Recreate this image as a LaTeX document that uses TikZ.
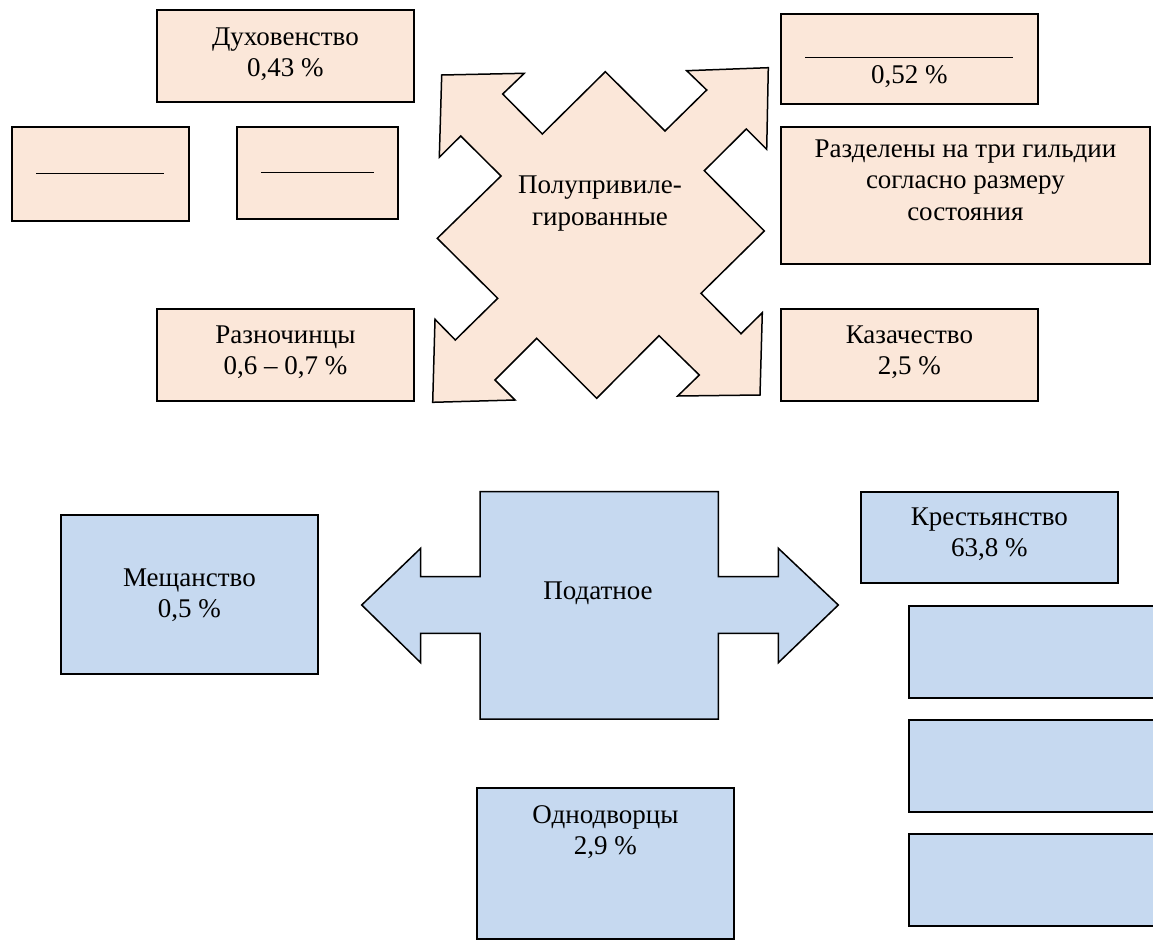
\documentclass[tikz,border=0pt]{standalone}
\usepackage{fontspec}
\setmainfont{Liberation Serif}
\usepackage{tikz}
\usetikzlibrary{positioning}
\definecolor{privfill}{HTML}{FBE7D9}
\definecolor{podfill}{HTML}{C6D9F0}
\tikzset{
    sbox/.style={draw, line width=1.8pt, anchor=north west, inner sep=0pt},
    privbox/.style={sbox, fill=privfill},
    podbox/.style={sbox, fill=podfill},
    sarrow/.style={draw, line width=1.5pt, line join=miter},
    stext/.style={align=center, inner sep=0pt, font=\fontsize{27}{31.5}\selectfont},
}

\begin{document}
\begin{tikzpicture}[x=1pt, y=-1pt]
    \useasboundingbox (0,0) rectangle (1153,947);
    \clip (0,0) rectangle (1153,947);
    % Полупривилегированные: стрелка-крест
    \path[sarrow, fill=privfill] (441.7,75) -- (524.3,73.3) -- (502.7,94) -- (542.3,134) -- (605.3,71.7)
        -- (665,131) -- (706.7,90) -- (686.7,70.7) -- (768.3,67.7) -- (766.7,149.3) -- (746.3,129)
        -- (704.3,170.7) -- (764.3,231) -- (701,293.3) -- (741,333.7) -- (762.3,312.7) -- (760,395)
        -- (677.7,396) -- (699.3,375) -- (659,335.7) -- (596.7,398.3) -- (536.7,338.3) -- (495,380)
        -- (515,400) -- (432.7,402.3) -- (435,319.3) -- (455.3,340) -- (497.7,298.3) -- (437.3,238.3)
        -- (501,176) -- (460.7,136) -- (439.3,157.3) -- cycle;
    \node[stext, anchor=north] (polu) at (600,171.3) {\strut Полупривиле-\\гированные};
    % Сословия слева
    \node[privbox, minimum width=257pt, minimum height=92pt] (duh) at (156,9) {};
    \node[stext, below=14pt of duh.north] (duhT) {\strut Духовенство\\0,43 \%};
    \node[privbox, minimum width=177pt, minimum height=94pt] (pusto1) at (11,126) {\rule{128pt}{1pt}};
    \node[privbox, minimum width=161pt, minimum height=92pt] (pusto2) at (236,126) {\rule{113pt}{1pt}};
    \node[privbox, minimum width=257pt, minimum height=92pt] (razn) at (156,308) {};
    \node[stext, below=13pt of razn.north] (raznT) {\strut Разночинцы\\0,6 – 0,7 \%};
    % Сословия справа
    \node[privbox, minimum width=257pt, minimum height=90pt] (kup) at (780,13) {};
    \node[stext, below=17pt of kup.north] (kupT) {\rule[-6pt]{208pt}{1pt}\strut\\0,52 \%};
    \node[privbox, minimum width=369pt, minimum height=137pt] (gild) at (780,126) {};
    \node[stext, below=9pt of gild.north] (gildT) {\strut Разделены на три гильдии\\согласно размеру\\состояния};
    \node[privbox, minimum width=257pt, minimum height=92pt] (kaz) at (780,308) {};
    \node[stext, below=13pt of kaz.north] (kazT) {\strut Казачество\\2,5 \%};

    % Податное: двойная стрелка
    \path[sarrow, fill=podfill] (361.7,605) -- (420.7,548.3) -- (420.7,576.7) -- (480,576.7) -- (480,491.7)
        -- (718.3,491.7) -- (718.3,576.7) -- (778.3,576.7) -- (778.3,548.3) -- (838.3,605)
        -- (778.3,662.7) -- (778.3,633.3) -- (718.3,633.3) -- (718.3,719) -- (480,719)
        -- (480,633.3) -- (420.7,633.3) -- (420.7,662.7) -- cycle;
    \node[stext, anchor=base] (podat) at (598,599.3) {Податное};
    \node[podbox, minimum width=257pt, minimum height=159pt] (mesh) at (60,514) {};
    \node[stext, below=50pt of mesh.north] (meshT) {\strut Мещанство\\0,5 \%};
    \node[podbox, minimum width=257pt, minimum height=91pt] (krest) at (860,491) {};
    \node[stext, below=12pt of krest.north] (krestT) {\strut Крестьянство\\63,8 \%};
    \node[podbox, minimum width=257pt, minimum height=151pt] (odno) at (476,787) {};
    \node[stext, below=14pt of odno.north] (odnoT) {\strut Однодворцы\\2,9 \%};
    \node[podbox, minimum width=300pt, minimum height=92pt] (kr1) at (908,605) {};
    \node[podbox, minimum width=300pt, minimum height=92pt] (kr2) at (908,719) {};
    \node[podbox, minimum width=300pt, minimum height=92pt] (kr3) at (908,833) {};
\end{tikzpicture}
\end{document}
